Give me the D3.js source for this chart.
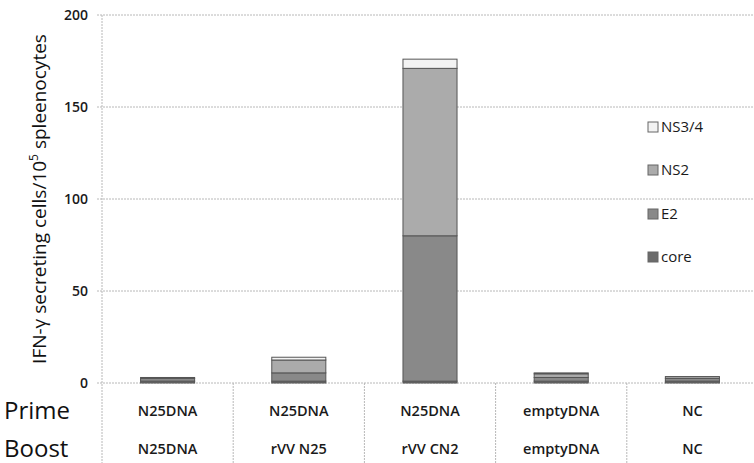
<!DOCTYPE html>
<html><head><meta charset="utf-8">
<script src="https://cdn.jsdelivr.net/npm/d3@7"></script>
<style>body{margin:0;background:#fff}svg{display:block}</style>
</head><body>
<svg id="c" width="754" height="463"></svg>
<script>
const groups = ["G1","G2","G3","G4","G5"];
const prime = ["N25DNA","N25DNA","N25DNA","emptyDNA","NC"];
const boost = ["N25DNA","rVV N25","rVV CN2","emptyDNA","NC"];
const seriesNames = ["core","E2","NS2","NS3/4"];
const core = [1, 1, 1, 1, 1];
const E2 = [1.5, 4.5, 79, 2, 1.5];
const NS2 = [0.5, 7, 91, 2, 1];
const NS34 = [0, 1.5, 5, 0.5, 0];
const yTicks = [0, 50, 100, 150, 200];

const seriesVals = [core, E2, NS2, NS34];
const colors = ["#6b6b6b", "#898989", "#ababab", "#f3f3f3"];
const table = groups.map((g, i) => {
  const o = {group: g};
  seriesNames.forEach((s, k) => o[s] = seriesVals[k][i]);
  return o;
});

const svg = d3.select("#c");
const font = "'Open Sans', sans-serif";
const x = d3.scaleBand().domain(groups).range([102, 758]).paddingInner(0.588).paddingOuter(0.294);
const y = d3.scaleLinear().domain([0, 200]).range([383, 15]);

// gridlines
svg.append("g").selectAll("line").data(yTicks).join("line")
  .attr("x1", 97).attr("x2", 754)
  .attr("y1", d => y(d)).attr("y2", d => y(d))
  .attr("stroke", "#b8b8b8").attr("stroke-width", 1).attr("stroke-dasharray", "2,1");

// left axis line extended through table
svg.append("line").attr("x1", 102).attr("x2", 102).attr("y1", y(200)).attr("y2", 463)
  .attr("stroke", "#b8b8b8").attr("stroke-dasharray", "2,1");

// table column separators
const step = x.step();
const bounds = groups.slice(1).map(g => x(g) - x.paddingInner() * step / 2);
svg.append("g").selectAll("line").data(bounds).join("line")
  .attr("x1", d => d).attr("x2", d => d).attr("y1", 383).attr("y2", 463)
  .attr("stroke", "#b8b8b8").attr("stroke-dasharray", "2,1");

// y tick labels
svg.append("g").selectAll("text").data(yTicks).join("text")
  .attr("x", 88).attr("y", d => y(d)).attr("dy", "0.35em")
  .attr("text-anchor", "end").attr("font-family", font).attr("font-size", 14)
  .attr("font-weight", 600).attr("fill", "#1a1a1a").text(d => d);

// y title
const yt = svg.append("text").attr("transform", `translate(46,${(20+378)/2}) rotate(-90)`)
  .attr("text-anchor", "middle").attr("font-family", font).attr("font-size", 19).attr("fill", "#111");
yt.append("tspan").text("IFN-γ secreting cells/10");
yt.append("tspan").attr("dy", -8).attr("font-size", 12).text("5");
yt.append("tspan").attr("dy", 8).text(" spleenocytes");

// stacked bars
const stacked = d3.stack().keys(seriesNames)(table);
svg.append("g").selectAll("g").data(stacked).join("g")
  .attr("fill", (d, i) => colors[i])
  .selectAll("rect").data(d => d).join("rect")
  .attr("x", d => x(d.data.group)).attr("width", x.bandwidth())
  .attr("y", d => y(d[1])).attr("height", d => y(d[0]) - y(d[1]))
  .attr("stroke", "#555").attr("stroke-width", 1);

// legend
const legY = [257, 214, 170, 127];
const leg = svg.append("g").selectAll("g").data(seriesNames).join("g")
  .attr("transform", (d, i) => `translate(648,${legY[i]})`);
leg.append("rect").attr("x", 0).attr("y", -5).attr("width", 10).attr("height", 10)
  .attr("fill", (d, i) => colors[i]).attr("stroke", "#666");
leg.append("text").attr("x", 13).attr("dy", "0.35em").attr("font-family", font)
  .attr("font-size", 15).attr("fill", "#1a1a1a").text(d => d);

// table rows
svg.append("text").attr("x", 4).attr("y", 419).attr("font-family", font).attr("font-size", 24).attr("fill", "#111").text("Prime");
svg.append("text").attr("x", 4).attr("y", 457).attr("font-family", font).attr("font-size", 24).attr("fill", "#111").text("Boost");
svg.append("g").selectAll("text").data(groups).join("text")
  .attr("x", d => x(d) + x.bandwidth() / 2).attr("y", 416).attr("text-anchor", "middle")
  .attr("font-family", font).attr("font-size", 14.5).attr("font-weight", 600).attr("fill", "#1a1a1a")
  .text((d, i) => prime[i]);
svg.append("g").selectAll("text").data(groups).join("text")
  .attr("x", d => x(d) + x.bandwidth() / 2).attr("y", 454).attr("text-anchor", "middle")
  .attr("font-family", font).attr("font-size", 14.5).attr("font-weight", 600).attr("fill", "#1a1a1a")
  .text((d, i) => boost[i]);
</script>
</body></html>
